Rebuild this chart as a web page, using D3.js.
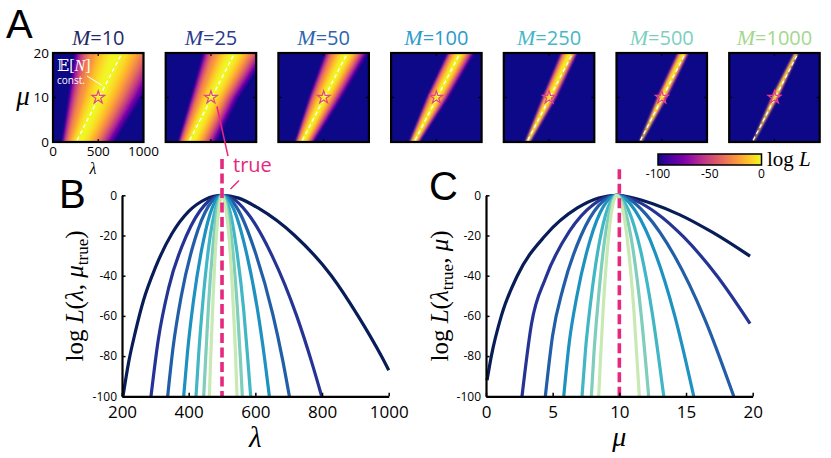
<!DOCTYPE html>
<html><head><meta charset="utf-8">
<script src="https://cdn.jsdelivr.net/npm/d3@7"></script>
<style>body{margin:0;background:#fff;}svg{display:block;}</style>
</head><body>
<svg id="c" width="831" height="458"></svg>
<script>
// ---------------- DATA ----------------
const Ms = [10, 25, 50, 100, 250, 500, 1000];
const curveColors = ["#081d58", "#253494", "#225ea8", "#1d91c0", "#41b6c4", "#7fcdbb", "#c7e9b4"];
const titleColors = ["#1d2a66", "#2b3a8f", "#2c66ad", "#2a9bcb", "#45b7c6", "#7ccfbf", "#a3d88e"];

// Panel B: log L(lambda, mu_true) for each M  [lambda, logL]
const bM10   = [[203,-100],[220,-83],[240,-68],[265,-52],[300,-36],[350,-19],[400,-8],[450,-2],[500,0],[550,-1.4],[608,-6.3],[718,-20],[828,-40],[908,-60],[978,-80],[1000,-87]];
const bM25   = [[287,-100],[308.7,-72],[340,-46],[393.5,-20],[447,-5],[475,-1.2],[500,0],[530,-1.4],[575,-8.5],[650,-30],[724,-60],[769,-83],[799,-100]];
const bM50   = [[337,-100],[353,-76],[378,-50],[418.5,-22],[459,-5.5],[480,-1.3],[500,0],[522,-1.5],[551,-8],[601,-29],[652,-59],[682,-82],[702,-100]];
const bM100  = [[385,-100],[396.5,-78],[414,-53],[442.5,-24],[471,-6],[486,-1.5],[500,0],[516,-1.5],[536,-7.2],[571,-27],[607,-57.5],[628,-81.5],[642,-100]];
const bM250  = [[422,-100],[430,-79],[442,-54],[461,-24.5],[481,-6.2],[500,0],[522,-6.6],[543,-26],[565,-57],[577,-81],[586,-100]];
const bM500  = [[445,-100],[451,-81],[459,-56],[473,-25],[486,-6.3],[500,0],[515,-6.3],[531,-25],[546,-56],[555,-81],[561,-100]];
const bM1000 = [[462,-100],[466,-81],[472,-56],[481,-25],[491,-6.3],[500,0],[511,-6.3],[523,-25],[534,-56],[541,-81],[545,-100]];

// Panel C: log L(lambda_true, mu) for each M  [mu, logL]
const cM10   = [[0.08,-92],[0.4,-80],[1.15,-60],[2.35,-40],[4.45,-20],[6.85,-6.3],[8.45,-1.3],[9.8,0],[11,-1.2],[12.5,-4.2],[14.5,-9.6],[17,-18.5],[19.8,-30.3]];
const cM25   = [[2.7,-100],[3.41,-64],[4.48,-41],[6.25,-18],[8.03,-4.7],[9.0,-1.0],[9.8,0],[11.3,-2.9],[12.8,-8.9],[14.8,-20.6],[17.3,-39.9],[19.8,-63.8]];
const cM50   = [[4.45,-100],[4.99,-70],[5.79,-46],[7.13,-20],[8.46,-5],[9.2,-1.0],[9.8,0],[10.7,-1.8],[12.0,-9.5],[14.19,-30.8],[16.39,-61.3],[18.58,-100]];
const cM100  = [[5.83,-100],[6.23,-74],[6.82,-50],[7.82,-22],[8.81,-5.5],[9.8,0],[10.5,-2.1],[11.25,-8.3],[12.69,-28.7],[14.14,-59.6],[15.58,-100]];
const cM250  = [[7.2,-100],[7.46,-77],[7.85,-53],[8.5,-23.5],[9.15,-6],[9.8,0],[10.68,-7.2],[11.57,-26.8],[12.45,-57.9],[13.33,-100]];
const cM500  = [[7.9,-100],[8.09,-79],[8.38,-55],[8.85,-24.5],[9.33,-6.2],[9.8,0],[10.4,-6.7],[11.0,-25.9],[11.6,-57.1],[12.2,-100]];
const cM1000 = [[8.45,-100],[8.59,-81],[8.79,-56.3],[9.13,-25],[9.46,-6.3],[9.8,0],[10.23,-6.3],[10.65,-25],[11.08,-56.3],[11.5,-100]];

const bCurves = [bM10, bM25, bM50, bM100, bM250, bM500, bM1000];
const cCurves = [cM10, cM25, cM50, cM100, cM250, cM500, cM1000];

const trueLambda = 500, trueMu = 10;
const bTrueTop = 18, cTrueTop = 13;

const bXTicks = [200, 400, 600, 800, 1000];
const cXTicks = [0, 5, 10, 15, 20];
const yTicks = [0, -20, -40, -60, -80, -100];
const hmLamTicks = [0, 500, 1000];
const hmMuTicks = [0, 10, 20];
const cbTicks = [-100, -50, 0];

// Panel A heat maps: ridge position and -100 half widths (left/right) at mu = 0, 10, 20
const heatMu    = [0, 10, 20];
const heatRidge = [[285,500,700],[270,505,745],[265,505,755],[255,505,760],[262,505,740],[265,505,745],[265,505,745]];
const heatWL    = [[185,330,460],[130,225,330],[78,164,238],[53,110,135],[25,77,110],[10,56,70],[3,39,25]];
const heatWR    = [[390,480,560],[292,300,390],[127,196,235],[57,130,160],[30,81,75],[10,56,55],[3,39,20]];
const levels = [-100,-90,-80,-70,-60,-50,-40,-30,-22,-15,-9,-4,-1.5];
const fracL  = [1,0.97,0.95,0.915,0.86,0.81,0.735,0.64,0.5,0.41,0.3,0.19,0.11];
const fracR  = [1,0.94,0.88,0.816,0.747,0.673,0.593,0.503,0.42,0.338,0.253,0.159,0.091];
const enLine = [[265,0.4],[752,19.6]];   // E[N] = const line

// ---------------- DRAW ----------------
const svg = d3.select("#c");
const defs = svg.append("defs");
const SERIF = "'Liberation Serif','DejaVu Serif',serif";
const SANS = "'Open Sans','Noto Sans',sans-serif";
const PINK = "#e6287e";

defs.append("filter").attr("id","blur").attr("x","-20%").attr("y","-20%").attr("width","140%").attr("height","140%")
  .append("feGaussianBlur").attr("stdDeviation", 0.9);

const heat = d3.scaleSequential(d3.interpolatePlasma).domain([-100, 0]);

const hmX0 = 53, hmDX = 112.7, hmW = 90.5, hmY0 = 53, hmH = 89;
const muS = d3.scaleLinear().domain([0,20]).range([hmY0+hmH, hmY0]);

Ms.forEach((M, i) => {
  const x = d3.scaleLinear().domain([0,1000]).range([hmX0+i*hmDX, hmX0+i*hmDX+hmW]);
  defs.append("clipPath").attr("id","clip"+i).append("rect")
    .attr("x", x(0)).attr("y", muS(20)).attr("width", x(1000)-x(0)).attr("height", muS(0)-muS(20));
  const g = svg.append("g").attr("clip-path", `url(#clip${i})`);
  g.append("rect").attr("x", x(0)-5).attr("y", muS(20)-5).attr("width", x(1000)-x(0)+10)
    .attr("height", muS(0)-muS(20)+10).attr("fill", heat(-100));
  const bands = g.append("g").attr("filter","url(#blur)");
  const line = d3.line().curve(d3.curveLinearClosed);
  levels.forEach((lv, k) => {
    const left = heatMu.map((mu, j) => [x(heatRidge[i][j] - heatWL[i][j]*fracL[k]), muS(mu)]);
    const right = heatMu.map((mu, j) => [x(heatRidge[i][j] + heatWR[i][j]*fracR[k]), muS(mu)]);
    const pts = [[left[0][0], left[0][1]+6], ...left, [left[2][0], left[2][1]-6],
                 [right[2][0], right[2][1]-6], ...right.slice().reverse(), [right[0][0], right[0][1]+6]];
    const next = k < levels.length-1 ? levels[k+1] : 0;
    bands.append("path").attr("d", line(pts)).attr("fill", heat((lv+next)/2));
  });
  // E[N] const dashed line
  g.append("line").attr("x1", x(enLine[0][0])).attr("y1", muS(enLine[0][1]))
    .attr("x2", x(enLine[1][0])).attr("y2", muS(enLine[1][1]))
    .attr("stroke","#fff").attr("stroke-width",1.3).attr("stroke-dasharray","4,3");
  // star at truth
  g.append("path").attr("d", d3.symbol(d3.symbolStar, 52)())
    .attr("transform", `translate(${x(trueLambda)},${muS(trueMu)})`)
    .attr("fill","none").attr("stroke","#e8408e").attr("stroke-width",1.2);
  // inner ticks
  const tk = svg.append("g").attr("stroke","#000").attr("stroke-width",1.2);
  tk.append("line").attr("x1",x(500)).attr("x2",x(500)).attr("y1",muS(0)).attr("y2",muS(0)-3);
  tk.append("line").attr("x1",x(500)).attr("x2",x(500)).attr("y1",muS(20)).attr("y2",muS(20)+3);
  tk.append("line").attr("x1",x(0)).attr("x2",x(0)+3).attr("y1",muS(10)).attr("y2",muS(10));
  tk.append("line").attr("x1",x(1000)).attr("x2",x(1000)-3).attr("y1",muS(10)).attr("y2",muS(10));
  // frame
  svg.append("rect").attr("x", x(0)).attr("y", muS(20)).attr("width", x(1000)-x(0))
    .attr("height", muS(0)-muS(20)).attr("fill","none").attr("stroke","#000").attr("stroke-width",2.2);
  // title
  const t = svg.append("text").attr("x", (x(0)+x(1000))/2).attr("y", 45).attr("text-anchor","middle")
    .attr("fill", titleColors[i]).attr("font-size", 20);
  t.append("tspan").attr("font-family", SERIF).attr("font-style","italic").attr("font-size",22).text("M");
  t.append("tspan").attr("font-family", SANS).text("=" + M);

  if (i === 0) {
    const lab = svg.append("g").attr("font-family", SANS).attr("font-size", 13.5).attr("fill","#000");
    hmMuTicks.forEach(v => lab.append("text").attr("x", x(0)-4).attr("y", muS(v)).attr("dy","0.36em")
      .attr("text-anchor","end").text(v));
    hmLamTicks.forEach(v => lab.append("text").attr("x", x(v)).attr("y", 156)
      .attr("text-anchor","middle").text(v));
    svg.append("text").attr("x", 23).attr("y", 105).attr("text-anchor","middle")
      .attr("font-family", SERIF).attr("font-style","italic").attr("font-size", 27).text("μ");
    svg.append("text").attr("x", 93).attr("y", 174).attr("text-anchor","middle")
      .attr("font-family", SERIF).attr("font-style","italic").attr("font-size", 16).text("λ");
    // E[N] const annotation
    const en = svg.append("text").attr("x", 57).attr("y", 71).attr("fill","#fff")
      .attr("font-family", SERIF).attr("font-size", 16);
    en.append("tspan").text("𝔼[");
    en.append("tspan").attr("font-style","italic").text("N");
    en.append("tspan").text("]");
    svg.append("text").attr("x", 57).attr("y", 84).attr("fill","#fff").attr("font-family", SANS)
      .attr("font-size", 10).text("const.");
    svg.append("line").attr("x1", 87).attr("y1", 76).attr("x2", 101.5).attr("y2", 85)
      .attr("stroke","#fff").attr("stroke-width",1);
  }
  if (i === 1) {
    svg.append("line").attr("x1", x(trueLambda)+6).attr("y1", muS(trueMu)+9)
      .attr("x2", 228).attr("y2", 156).attr("stroke", PINK).attr("stroke-width", 1.5);
  }
});

// colour bar
const cbX = d3.scaleLinear().domain([-100,0]).range([658, 761.5]);
const grad = defs.append("linearGradient").attr("id","cbgrad");
d3.range(0, 1.0001, 0.05).forEach(t => grad.append("stop").attr("offset", t).attr("stop-color", d3.interpolatePlasma(t)));
svg.append("rect").attr("x", cbX(-100)).attr("y", 154).attr("width", cbX(0)-cbX(-100)).attr("height", 11)
  .attr("fill","url(#cbgrad)").attr("stroke","#000").attr("stroke-width",1.5);
cbTicks.forEach(v => svg.append("text").attr("x", cbX(v)).attr("y", 178).attr("text-anchor","middle")
  .attr("font-family", SANS).attr("font-size", 12).text(v));
const cbl = svg.append("text").attr("x", 767).attr("y", 166).attr("font-family", SERIF).attr("font-size", 21);
cbl.append("tspan").text("log ");
cbl.append("tspan").attr("font-style","italic").text("L");

// panel letters
[["A", 6, 38], ["B", 59, 208], ["C", 429, 200]].forEach(([s, x, y]) =>
  svg.append("text").attr("x", x).attr("y", y).attr("font-family","'Liberation Sans',Arial,sans-serif")
    .attr("font-size", 40).text(s));

// line plots
function linePanel(xDomain, xRange, xTicks, curves, trueVal, trueTop, xLabel) {
  const x = d3.scaleLinear().domain(xDomain).range(xRange);
  const y = d3.scaleLinear().domain([-100, 0]).range([396.3, 195.3]);
  const g = svg.append("g");
  const line = d3.line().x(d => x(d[0])).y(d => y(d[1])).curve(d3.curveMonotoneX);
  curves.forEach((c, i) => g.append("path").attr("d", line(c)).attr("fill","none")
    .attr("stroke", curveColors[i]).attr("stroke-width", 3.2).attr("stroke-linecap","butt"));
  g.append("line").attr("x1", x(trueVal)).attr("x2", x(trueVal)).attr("y1", y(trueTop)).attr("y2", y(-100))
    .attr("stroke", PINK).attr("stroke-width", 3.6).attr("stroke-dasharray","10,4.5");
  const ax = svg.append("g").attr("transform", `translate(0,${y(-100)})`)
    .call(d3.axisBottom(x).tickValues(xTicks).tickSize(-3.5).tickSizeOuter(0).tickPadding(10).tickFormat(d => String(d)));
  ax.selectAll("text").attr("font-family", SANS).attr("font-size", 17).attr("fill","#000");
  const ay = svg.append("g").attr("transform", `translate(${x(xDomain[0])},0)`)
    .call(d3.axisLeft(y).tickValues(yTicks).tickSize(-3.5).tickSizeOuter(0).tickPadding(5).tickFormat(d => String(d)));
  ay.selectAll("text").attr("font-family", SANS).attr("font-size", 12).attr("fill","#000");
  [ax, ay].forEach(a => { a.select(".domain").attr("stroke-width", 2.2); a.selectAll(".tick line").attr("stroke-width", 1.5); });
  svg.append("text").attr("x", (xRange[0]+xRange[1])/2).attr("y", xLabel.y).attr("text-anchor","middle")
    .attr("font-family", SERIF).attr("font-style","italic").attr("font-size", xLabel.fs).text(xLabel.s);
  return x;
}
linePanel([200,1000], [122, 388.7], bXTicks, bCurves, trueLambda, bTrueTop, {s:"λ", y:447, fs:29});
linePanel([0,20], [486, 752.7], cXTicks, cCurves, trueMu, cTrueTop, {s:"μ", y:446, fs:28});

// y labels
function yLabel(xPos, parts) {
  const t = svg.append("text").attr("transform", `translate(${xPos},296) rotate(-90)`).attr("text-anchor","middle")
    .attr("font-family", SERIF).attr("font-size", 25);
  parts.forEach(p => {
    const s = t.append("tspan").text(p.s);
    if (p.i) s.attr("font-style","italic");
    if (p.sub) s.attr("font-size", 17).attr("dy", 5);
    if (p.up) s.attr("dy", -5);
  });
}
yLabel(83, [{s:"log "},{s:"L",i:1},{s:"("},{s:"λ",i:1},{s:", "},{s:"μ",i:1},{s:"true",sub:1},{s:")",up:1}]);
yLabel(448, [{s:"log "},{s:"L",i:1},{s:"("},{s:"λ",i:1},{s:"true",sub:1},{s:", ",up:1},{s:"μ",i:1},{s:")"}]);

// "true" annotation
svg.append("text").attr("x", 233).attr("y", 172).attr("fill", PINK).attr("font-family", SANS)
  .attr("font-size", 20).text("true");
svg.append("line").attr("x1", 239).attr("y1", 180.5).attr("x2", 230.5).attr("y2", 189)
  .attr("stroke", PINK).attr("stroke-width", 1.5);
</script>
</body></html>
